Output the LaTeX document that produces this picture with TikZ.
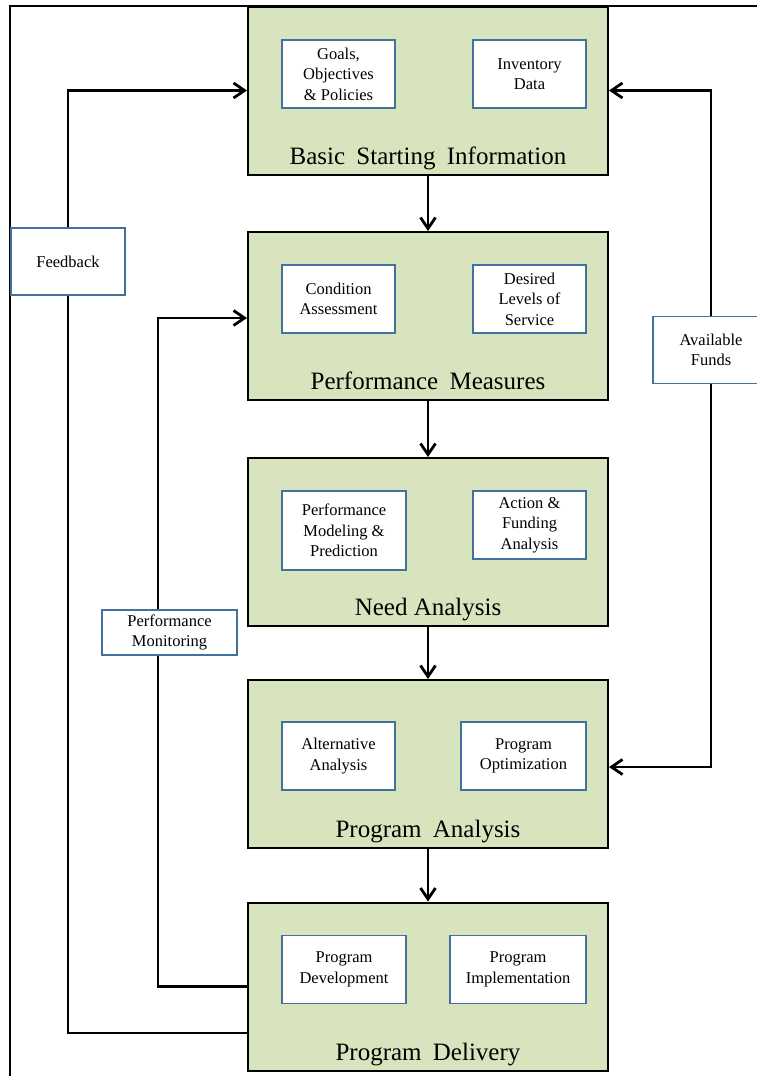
\documentclass[tikz,border=0pt]{standalone}
\usepackage{fontspec}
\setmainfont{Liberation Serif}
\usepackage{tikz}
\usetikzlibrary{%
  positioning,%
  arrows.meta%
}
\definecolor{stagegreen}{HTML}{D7E4BD}
\definecolor{itemblue}{HTML}{41719C}
\newcommand{\wsp}{\hspace{0.45em}}

\begin{document}
\begin{tikzpicture}[x=1pt,y=-1pt,
		stage/.style={draw,line width=2pt,fill=stagegreen,minimum width=360pt,minimum height=168pt},
		item/.style={draw=itemblue,line width=1.5pt,fill=white,align=center,minimum height=68pt,inner sep=2pt,font=\fontsize{16.5}{20.5}\selectfont},
		title/.style={anchor=base,inner sep=0pt,font=\fontsize{25}{30}\selectfont},
		flow/.style={line width=2.8pt,-{Straight Barb[length=11pt,width=15pt]}},
		link/.style={line width=2.8pt}]
		\useasboundingbox (0,0) rectangle (756,1076);
		%Frame
		\draw[line width=2.6pt] (790,6) -| (10,1100);
		%Stages
		\node[stage] (basic) at (428,90.5) {};
		\node[stage] (measure) at (428,316) {};
		\node[stage] (need) at (428,542) {};
		\node[stage] (analysis) at (428,764) {};
		\node[stage] (delivery) at (428,986.5) {};
		\node[title] (basicT) at (428,164) {Basic\wsp Starting\wsp Information};
		\node[title] (measureT) at (428,389) {Performance\wsp Measures};
		\node[title] (needT) at (428,615) {Need Analysis};
		\node[title] (analysisT) at (428,837) {Program\wsp Analysis};
		\node[title] (deliveryT) at (428,1060) {Program\wsp Delivery};
		%Items
		\node[item,minimum width=113pt] (goals) at (338.5,74) {Goals,\\Objectives\\\& Policies};
		\node[item,minimum width=113pt] (inventory) at (529.5,74) {Inventory\\Data};
		\node[item,minimum width=113pt] (condition) at (338.5,299) {Condition\\Assessment};
		\node[item,minimum width=113pt] (service) at (529.5,299) {Desired\\Levels of\\Service};
		\node[item,minimum width=124pt,minimum height=79pt] (model) at (344,530.5) {Performance\\Modeling \&\\Prediction};
		\node[item,minimum width=113pt] (action) at (529.5,525) {Action \&\\Funding\\Analysis};
		\node[item,minimum width=113pt] (alt) at (338.5,756) {Alternative\\Analysis};
		\node[item,minimum width=125pt] (optim) at (523.5,756) {Program\\Optimization};
		\node[item,minimum width=124pt] (develop) at (344,969.5) {Program\\Development};
		\node[item,minimum width=136pt] (implement) at (518,969.5) {Program\\Implementation};
		%Side labels
		\node[item,minimum width=114pt,minimum height=67pt] (feedback) at (68,261.5) {Feedback};
		\node[item,minimum width=135pt,minimum height=45pt] (monitor) at (169.5,632.5) {Performance\\Monitoring};
		\node[item,minimum width=116pt,minimum height=67pt] (funds) at (711,350) {Available\\Funds};
		%
		%Vertical arrows
		\draw[flow]
			(basic) edge (measure)
			(measure) edge (need)
			(need) edge (analysis)
			(analysis) edge (delivery)
		;
		%Feedback loops
		\draw[flow] (feedback.north) |- (basic.west);
		\draw[link] (feedback.south) |- ([yshift=-46.5pt]delivery.west);
		\draw[link] (delivery.west) -| ([xshift=-11.5pt]monitor.south);
		\draw[flow] ([xshift=-11.5pt]monitor.north) |- ([yshift=-2pt]measure.west);
		\draw[flow] (funds.north) |- (basic.east);
		\draw[flow] (funds.south) |- ([yshift=-3pt]analysis.east);
	\end{tikzpicture}
\end{document}
